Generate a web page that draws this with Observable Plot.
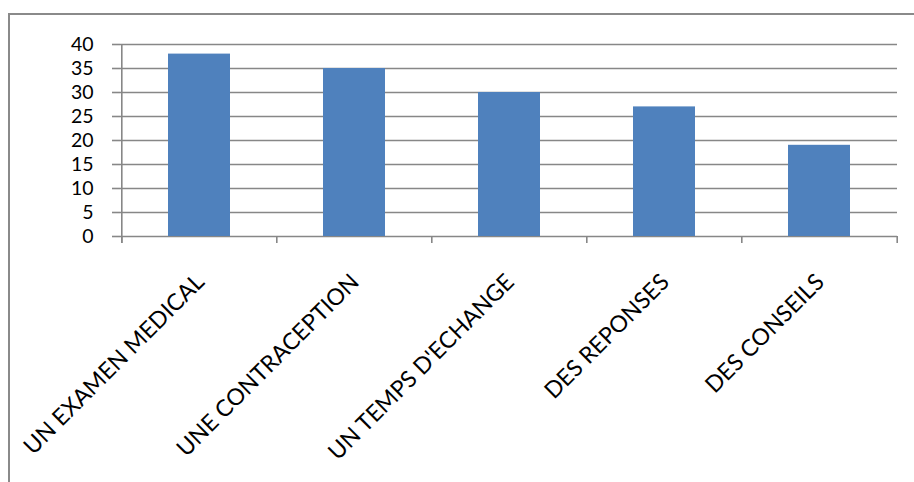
<!DOCTYPE html>
<html><head><meta charset="utf-8">
<script src="https://cdn.jsdelivr.net/npm/d3@7"></script>
<script src="https://cdn.jsdelivr.net/npm/@observablehq/plot@0.6"></script>
<style>
html,body{margin:0;padding:0;background:#fff;overflow:hidden}
#wrap{position:relative;width:914px;height:482px;overflow:hidden}
#border{position:absolute;left:8px;top:13px;width:930px;height:520px;border:2px solid #8a8a8a;box-sizing:border-box;pointer-events:none}
#wrap svg{position:absolute;left:0;top:0}
</style></head><body><div id="wrap"><div id="border"></div></div>
<script>
const categories = ["UN EXAMEN MEDICAL", "UNE CONTRACEPTION", "UN TEMPS D'ECHANGE", "DES REPONSES", "DES CONSEILS"];
const values = [38, 35, 30, 27, 19];
const yTicks = [0, 5, 10, 15, 20, 25, 30, 35, 40];

const data = categories.map((c, i) => ({cat: c, val: values[i]}));
const W = 914, H = 482, mL = 120, mR = 17, mT = 44, mB = 246;
const step = (W - mL - mR) / categories.length;
const grey = "#878787";
const font = "Lato, 'Open Sans', sans-serif";

const chart = Plot.plot({
  width: W, height: H,
  marginLeft: mL, marginRight: mR, marginTop: mT, marginBottom: mB,
  style: {fontFamily: font, fontSize: "20px", color: "#000", background: "transparent", overflow: "visible"},
  x: {domain: categories, paddingInner: 0.6, paddingOuter: 0.3, axis: null},
  y: {domain: [0, 40], axis: null},
  marks: [
    Plot.gridY(yTicks, {stroke: grey, strokeOpacity: 1, strokeWidth: 1.6}),
    Plot.axisY(yTicks, {tickSize: 8, tickPadding: 19, stroke: grey, strokeWidth: 1.6, fontSize: 19.5, label: null, tickFormat: d => String(d)}),
    Plot.barY(data, {x: "cat", y: "val", fill: "#4F81BD"}),
    Plot.ruleX([categories[0]], {x: d => d, y1: 40, y2: 0, dx: -step / 2, insetBottom: -7, stroke: grey, strokeWidth: 1.6}),
    Plot.ruleX(categories, {x: d => d, y1: 0, y2: 0, dx: -step / 2, insetBottom: -7, stroke: grey, strokeWidth: 1.6}),
    Plot.ruleX([categories[categories.length - 1]], {x: d => d, y1: 0, y2: 0, dx: step / 2, insetBottom: -7, stroke: grey, strokeWidth: 1.6}),
    Plot.text(data, {x: "cat", y: 0, text: "cat", rotate: -45, textAnchor: "end", lineAnchor: "bottom", dx: 6, dy: 47, fontSize: 23, fill: "#000"})
  ]
});
document.getElementById("wrap").appendChild(chart);
</script>
</body></html>
